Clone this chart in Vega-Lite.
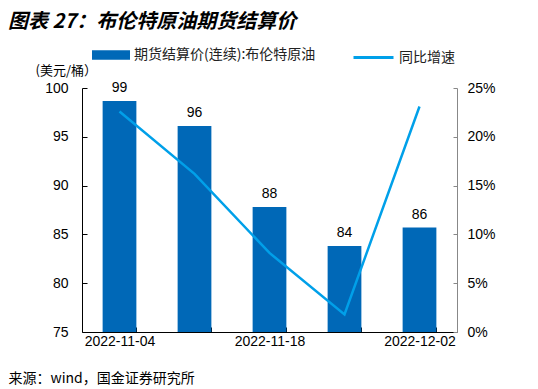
{
  "$schema": "https://vega.github.io/schema/vega-lite/v6.json",
  "width": 375,
  "height": 244,
  "autosize": {"type": "none"},
  "padding": {"left": 82, "top": 88, "right": 81, "bottom": 57},
  "background": "white",
  "config": {
    "view": {"stroke": null},
    "font": "Liberation Sans",
    "axis": {"labelFont": "Liberation Sans", "titleFont": "Noto Sans CJK SC"}
  },
  "title": {
    "text": "图表 27：布伦特原油期货结算价",
    "anchor": "start",
    "frame": "group",
    "font": "Noto Sans CJK SC",
    "fontSize": 20,
    "fontWeight": "bold",
    "fontStyle": "italic",
    "color": "black",
    "dx": -74,
    "orient": "top",
    "offset": 4
  },
  "data": {
    "values": [
      {"date": "2022-11-04", "price": 98.67, "yoy": 0.226, "s1": "期货结算价(连续):布伦特原油", "s2": "同比增速"},
      {"date": "2022-11-11", "price": 96.1, "yoy": 0.162, "s1": "期货结算价(连续):布伦特原油", "s2": "同比增速"},
      {"date": "2022-11-18", "price": 87.8, "yoy": 0.081, "s1": "期货结算价(连续):布伦特原油", "s2": "同比增速"},
      {"date": "2022-11-25", "price": 83.8, "yoy": 0.018, "s1": "期货结算价(连续):布伦特原油", "s2": "同比增速"},
      {"date": "2022-12-02", "price": 85.7, "yoy": 0.231, "s1": "期货结算价(连续):布伦特原油", "s2": "同比增速"}
    ]
  },
  "encoding": {
    "x": {
      "field": "date",
      "type": "ordinal",
      "scale": {"paddingInner": 0.55, "paddingOuter": 0.275},
      "axis": {
        "labelAngle": 0,
        "labelExpr": "indexof(['2022-11-04','2022-11-18','2022-12-02'], datum.label) >= 0 ? datum.label : ''",
        "tickBand": "extent",
        "tickSize": -5,
        "tickColor": "black",
        "domainColor": "black",
        "labelFontSize": 14,
        "labelColor": "black",
        "labelPadding": 7,
        "title": "来源：wind，国金证券研究所",
        "titleAnchor": "start",
        "titleAlign": "left",
        "titleBaseline": "middle",
        "titleX": -74,
        "titleY": 46,
        "titleFontSize": 14,
        "titleFontWeight": "normal",
        "titleColor": "black"
      }
    }
  },
  "layer": [
    {
      "encoding": {
        "y": {
          "field": "price",
          "type": "quantitative",
          "scale": {"domain": [75, 100], "zero": false},
          "axis": {
            "values": [75, 80, 85, 90, 95, 100],
            "grid": false,
            "tickSize": -5,
            "tickColor": "black",
            "domainColor": "black",
            "labelFontSize": 14,
            "labelColor": "black",
            "labelPadding": 19,
            "title": "(美元/桶）",
            "titleAngle": 0,
            "titleAlign": "left",
            "titleBaseline": "middle",
            "titleAnchor": "start",
            "titleX": -47,
            "titleY": -18,
            "titleFontSize": 13,
            "titleFontWeight": "normal",
            "titleColor": "black"
          }
        }
      },
      "layer": [
        {
          "mark": {"type": "bar", "color": "#0068b7", "clip": true},
          "encoding": {
            "fill": {
              "field": "s1",
              "type": "nominal",
              "scale": {"range": ["#0068b7"]},
              "legend": {
                "title": null,
                "orient": "none",
                "legendX": 10,
                "legendY": -52,
                "symbolType": "M-1,-0.25H1V0.25H-1Z",
                "symbolSize": 1444,
                "symbolStrokeWidth": 0,
                "labelFontSize": 14,
                "labelFont": "Noto Sans CJK SC",
                "labelColor": "#222",
                "labelOffset": 4,
                "labelLimit": 400
              }
            }
          }
        },
        {
          "mark": {"type": "text", "baseline": "bottom", "dy": -6, "fontSize": 14, "color": "black"},
          "encoding": {
            "text": {"field": "price", "type": "quantitative", "format": ".0f"}
          }
        }
      ]
    },
    {
      "mark": {"type": "line", "strokeWidth": 2.5, "color": "#00a0e9"},
      "encoding": {
        "y": {
          "field": "yoy",
          "type": "quantitative",
          "scale": {"domain": [0, 0.25]},
          "axis": {
            "orient": "right",
            "format": ".0%",
            "values": [0, 0.05, 0.1, 0.15, 0.2, 0.25],
            "grid": false,
            "tickSize": -4,
            "tickColor": "#888",
            "domainColor": "#888",
            "labelFontSize": 14,
            "labelColor": "black",
            "labelPadding": 14,
            "title": null
          }
        },
        "stroke": {
          "field": "s2",
          "type": "nominal",
          "scale": {"range": ["#00a0e9"]},
          "legend": {
            "title": null,
            "orient": "none",
            "legendX": 270,
            "legendY": -52,
            "symbolType": "stroke",
            "symbolSize": 1600,
            "symbolStrokeWidth": 3,
            "labelFontSize": 14,
            "labelFont": "Noto Sans CJK SC",
            "labelColor": "#222",
            "labelOffset": 4
          }
        }
      }
    }
  ],
  "resolve": {"scale": {"y": "independent", "fill": "independent", "stroke": "independent"}}
}
